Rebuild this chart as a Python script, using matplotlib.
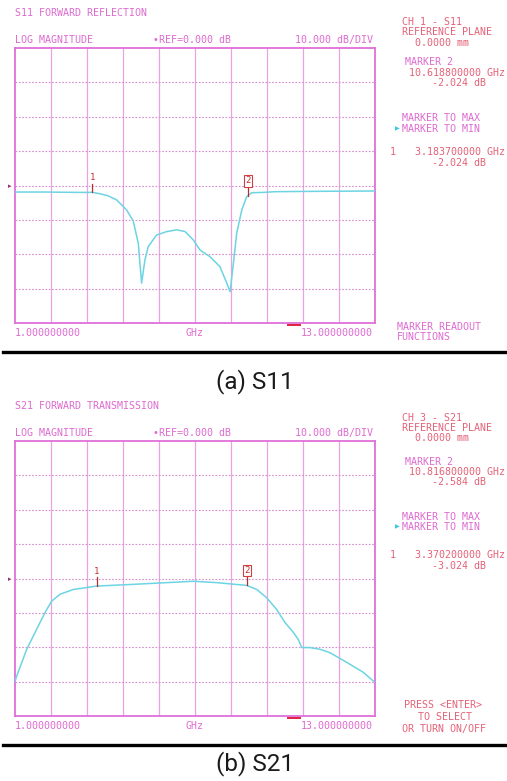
import matplotlib
matplotlib.use('Agg')
import matplotlib.pyplot as plt
import numpy as np
from matplotlib.lines import Line2D

W, H = 507, 781

# S11 trace (GHz, dB)
s11_freq = [1.0, 2.0, 3.0, 3.58, 3.83, 4.1, 4.39, 4.72, 4.94, 5.11, 5.22,
            5.33, 5.44, 5.72, 6.06, 6.39, 6.67, 6.94, 7.17, 7.5, 7.83,
            8.06, 8.17, 8.28, 8.39, 8.56, 8.72, 8.89, 9.3, 9.67, 11.0, 13.0]
s11_db = [-1.9, -1.9, -2.0, -2.0, -2.4, -3.0, -4.2, -7.1, -10.3, -16.8, -28.4,
          -21.7, -17.8, -14.4, -13.4, -12.9, -13.4, -15.8, -18.8, -20.7, -23.6,
          -28.4, -30.9, -22.6, -13.9, -7.1, -3.3, -2.1, -2.0, -1.8, -1.7, -1.6]

# S21 trace (GHz, dB)
s21_freq = [1.0, 1.06, 1.39, 1.72, 2.0, 2.22, 2.5, 2.94, 3.72, 4.94, 6.06,
            6.94, 7.72, 8.72, 9.06, 9.39, 9.72, 10.0, 10.28, 10.44, 10.56,
            10.83, 11.17, 11.5, 12.06, 12.61, 12.94, 13.0]
s21_db = [-30.0, -28.3, -20.6, -14.8, -9.9, -6.6, -4.6, -3.2, -2.2, -1.7, -1.2,
          -0.8, -1.2, -2.0, -3.2, -5.6, -9.0, -12.8, -15.7, -17.7, -20.1,
          -20.1, -20.6, -21.6, -24.4, -27.3, -29.8, -30.0]

# marker positions on the traces
s11_markers = [3.58, 8.77]
s21_markers = [3.72, 8.72]

s11_side = [("CH 1 - S11", 402, 22, 'red'), ("REFERENCE PLANE", 402, 32, 'red'),
            ("0.0000 mm", 415, 43, 'red'), ("MARKER 2", 405, 62, 'mag'),
            ("10.618800000 GHz", 409, 73, 'red'), ("-2.024 dB", 432, 83, 'red'),
            ("MARKER TO MAX", 402, 118, 'mag'), ("MARKER TO MIN", 402, 129, 'mag'),
            ("1", 390, 152, 'red'), ("3.183700000 GHz", 415, 152, 'red'),
            ("-2.024 dB", 432, 163, 'red'),
            ("MARKER READOUT", 397, 327, 'mag'), ("FUNCTIONS", 397, 337, 'mag')]
s21_side = [("CH 3 - S21", 402, 418, 'red'), ("REFERENCE PLANE", 402, 428, 'red'),
            ("0.0000 mm", 415, 438, 'red'), ("MARKER 2", 405, 462, 'mag'),
            ("10.816800000 GHz", 409, 472, 'red'), ("-2.584 dB", 432, 482, 'red'),
            ("MARKER TO MAX", 402, 517, 'mag'), ("MARKER TO MIN", 402, 527, 'mag'),
            ("1", 390, 555, 'red'), ("3.370200000 GHz", 415, 555, 'red'),
            ("-3.024 dB", 432, 566, 'red'),
            ("PRESS <ENTER>", 404, 705, 'red'), ("TO SELECT", 418, 717, 'red'),
            ("OR TURN ON/OFF", 402, 729, 'red')]

MAG = '#d850c8'
RED = '#e04660'
BORDER = '#e070d8'
GRIDC = '#eaa2e2'
TRACE = '#6cd4e2'
MONO = 'DejaVu Sans Mono'

fig = plt.figure(figsize=(W / 100, H / 100), dpi=100)


def px(x, y):
    return x / W, 1 - y / H


def label(x, y, s, color, ha='left', size=7.2):
    fig.text(*px(x, y), s, color=color, ha=ha, va='center', family=MONO,
             fontsize=size, alpha=0.85)


def panel(top, freq, db, markers, title, side, caption, cap_y):
    bottom = top + 275
    ax = fig.add_axes([15 / W, 1 - bottom / H, 360 / W, 275 / H])
    ax.set_xlim(1, 13)
    ax.set_ylim(-40, 40)
    for k in range(1, 10):
        ax.axvline(1 + 1.2 * k, color=GRIDC, lw=0.9, zorder=1)
    for v in range(-30, 40, 10):
        ax.axhline(v, color='#d48fcc', lw=0.8, ls=(0, (1.5, 1.5)), zorder=1)
    ax.plot(freq, db, color=TRACE, lw=1.1, zorder=3)
    ax.set_xticks([])
    ax.set_yticks([])
    for sp in ax.spines.values():
        sp.set_color(BORDER)
        sp.set_linewidth(1.3)

    # marker flags
    for i, f in enumerate(markers):
        level = float(np.interp(f, freq, db))
        ax.plot([f, f], [level, level + 2.5], color='#b03030', lw=0.9, zorder=4)
        if i == 0:
            ax.text(f, level + 3, "1", color='#c03030', ha='center', va='bottom',
                    family=MONO, fontsize=6.5, zorder=5)
        else:
            ax.text(f, level + 3, "2", color='#c03030', ha='center', va='bottom',
                    family=MONO, fontsize=6.5, zorder=5,
                    bbox=dict(boxstyle='square,pad=0.15', fc='white',
                              ec='#d04040', lw=0.8))

    # reference position arrow and stimulus tick
    fig.text(*px(10, top + 138), "\u25b8", color='#a02a70', ha='center',
             va='center', fontsize=5)
    ax.plot([10.1, 10.5], [-40.6, -40.6], color='#e02040', lw=1.4,
            clip_on=False, zorder=6)

    label(15, top - 35, title, MAG)
    label(15, top - 8, "LOG MAGNITUDE", MAG)
    label(153, top - 8, "\u2022REF=0.000 dB", MAG)
    label(373, top - 8, "10.000 dB/DIV", MAG, ha='right')
    label(15, bottom + 10, "1.000000000", MAG)
    label(195, bottom + 10, "GHz", MAG, ha='center')
    label(373, bottom + 10, "13.000000000", MAG, ha='right')

    for s, x, y, c in side:
        label(x, y, s, RED if c == 'red' else MAG)
        if s == "MARKER TO MIN":
            fig.text(*px(397, y), "\u25b6", color='#40c8e0', ha='center',
                     va='center', fontsize=4.5)

    fig.add_artist(Line2D([3 / W, 1], [1 - (bottom + 29) / H] * 2,
                          color='black', lw=2.4))
    fig.text(*px(255, cap_y), caption, ha='center', va='center',
             family='Roboto', fontsize=17.5, color='#1a1a1a')


panel(48, s11_freq, s11_db, s11_markers, "S11 FORWARD REFLECTION", s11_side,
      "(a) S11", 382)
panel(441, s21_freq, s21_db, s21_markers, "S21 FORWARD TRANSMISSION", s21_side,
      "(b) S21", 764)

fig.savefig("out.png", dpi=100, facecolor='white')
